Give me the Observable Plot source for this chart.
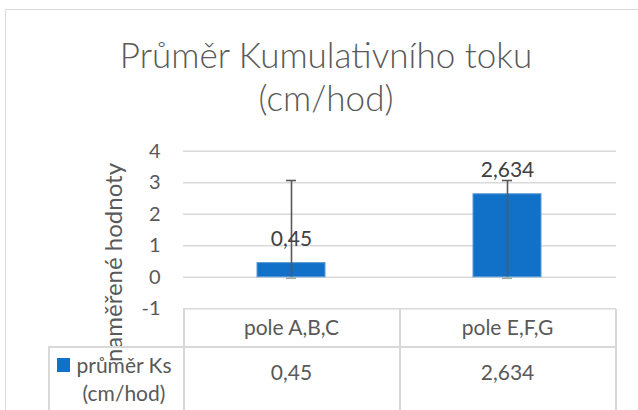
<!DOCTYPE html>
<html><head><meta charset="utf-8">
<script src="https://cdn.jsdelivr.net/npm/d3@7"></script>
<script src="https://cdn.jsdelivr.net/npm/@observablehq/plot@0.6"></script>
<style>
body{margin:0;background:#fff;}
#wrap{position:relative;width:638px;height:410px;overflow:hidden;font-family:Lato,"Open Sans",sans-serif;}
#frame{position:absolute;left:5px;top:9px;width:660px;height:440px;border:1px solid #D9D9D9;}
#title{position:absolute;left:0;top:33px;width:652px;text-align:center;color:#595959;font-size:35px;font-weight:300;line-height:43px;}
#chart{position:absolute;left:0;top:0;}
.ln{position:absolute;background:#D9D9D9;}
#legend{position:absolute;left:48px;top:347px;width:135px;color:#595959;font-size:21px;line-height:28px;}
#legend .sw{position:absolute;left:9px;top:11px;width:13px;height:14px;background:#1170C8;}
#legend .tx{position:absolute;left:24px;top:4px;width:104px;text-align:center;}
</style></head>
<body>
<div id="wrap">
  <div id="frame"></div>
  <div id="title"></div>
  <div id="chart"></div>
  <div class="ln" style="left:183px;top:309px;width:1.5px;height:110px"></div>
  <div class="ln" style="left:399px;top:309px;width:1.5px;height:110px"></div>
  <div class="ln" style="left:615px;top:309px;width:1.5px;height:110px"></div>
  <div class="ln" style="left:48px;top:346px;width:568px;height:1.5px"></div>
  <div class="ln" style="left:48px;top:346px;width:1.5px;height:80px"></div>
  <div id="legend"><div class="sw"></div><div class="tx"></div></div>
</div>
<script>
const titleLines = ["Průměr Kumulativního toku", "(cm/hod)"];
const yTitle = "naměřené hodnoty";
const seriesName = "průměr Ks (cm/hod)";
const categories = ["pole A,B,C", "pole E,F,G"];
const values = [0.45, 2.634];
const valueLabels = ["0,45", "2,634"];
const errLow = [0, 0];
const errHigh = [3.07, 3.07];
const yTicks = [-1, 0, 1, 2, 3, 4];

document.getElementById("title").innerHTML = titleLines.join("<br>");
document.querySelector("#legend .tx").textContent = seriesName;

const rows = categories.map((c, i) => ({cat: c, value: values[i], label: valueLabels[i], low: errLow[i], high: errHigh[i]}));

const chart = Plot.plot({
  width: 638, height: 410,
  marginLeft: 183, marginRight: 22, marginTop: 150.7, marginBottom: 101.7,
  style: {background: "transparent", fontFamily: "Lato, 'Open Sans', sans-serif", overflow: "visible"},
  x: {domain: categories, paddingInner: 0.684, paddingOuter: 0.342},
  y: {domain: [-1, 4]},
  marks: [
    Plot.gridY(yTicks, {stroke: "#D9D9D9", strokeOpacity: 1, strokeWidth: 1.5}),
    Plot.axisY(yTicks, {tickSize: 0, tickPadding: 23, fontSize: 20, fill: "#595959", label: null, tickFormat: d => String(d)}),
    Plot.barY(rows, {x: "cat", y: "value", fill: "#1170C8", stroke: "#5B9BD5", strokeWidth: 1}),
    Plot.ruleX(rows, {x: "cat", y1: "low", y2: "high", stroke: "#595959", strokeWidth: 1.6}),
    Plot.tickY(rows, {x: "cat", y: "high", insetLeft: 29, insetRight: 29, stroke: "#595959", strokeWidth: 1.6}),
    Plot.tickY(rows, {x: "cat", y: "low", insetLeft: 29, insetRight: 29, stroke: "#A6A6A6", strokeWidth: 1.6, dy: 1}),
    Plot.text(rows, {x: "cat", y: "value", text: "label", dy: -24, fontSize: 21, fill: "#404040"}),
    Plot.text([yTitle], {frameAnchor: "left", textAnchor: "middle", lineAnchor: "middle", rotate: -90, dx: -69, dy: 32.5, fontSize: 24, fill: "#595959"}),
    Plot.axisX({anchor: "bottom", tickSize: 0, tickPadding: 11, fontSize: 21, fill: "#595959", label: null}),
    Plot.text(rows, {x: "cat", frameAnchor: "bottom", text: "label", dy: 70.7, fontSize: 21, fill: "#595959"})
  ]
});
document.getElementById("chart").appendChild(chart);
</script>
</body></html>
